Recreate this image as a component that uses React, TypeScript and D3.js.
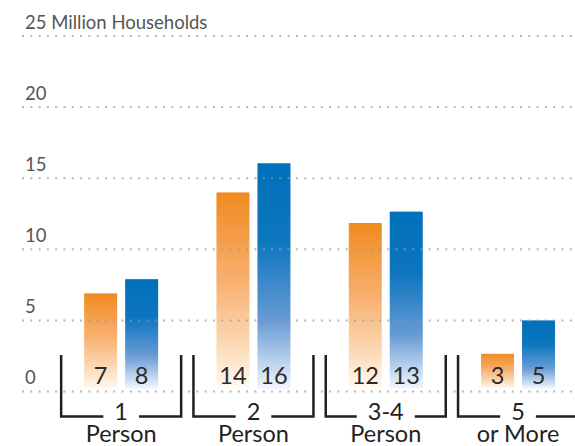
import React, { useEffect, useRef } from "react";
import * as d3 from "d3";

// household size groups
const groups = ["1", "2", "3-4", "5"];
const subLabels = ["Person", "Person", "Person", "or More"];
const seriesNames = ["earlier", "later"];
// bar heights (millions of households)
const earlierValues = [6.9, 14.0, 11.85, 2.65];
const laterValues = [7.9, 16.05, 12.65, 5.0];
// labels printed inside the bars
const earlierLabels = ["7", "14", "12", "3"];
const laterLabels = ["8", "16", "13", "5"];
const yTicks = [0, 5, 10, 15, 20, 25];

const W = 575;
const H = 446;
const FONT = "Lato, 'Open Sans', sans-serif";

function App() {
  const ref = useRef<SVGSVGElement>(null);

  useEffect(() => {
    const svg = d3.select(ref.current);
    svg.selectAll("*").remove();

    const y = d3.scaleLinear().domain([0, 25]).range([391.5, 36]);
    const x = d3.scaleBand().domain(groups).range([55, 55 + 4 * 132.3]);
    const inner = d3.scaleBand().domain(seriesNames).range([-37, 37]).paddingInner(0.195);

    const defs = svg.append("defs");
    const og = defs.append("linearGradient").attr("id", "gOrange")
      .attr("x1", 0).attr("y1", 0).attr("x2", 0).attr("y2", 1);
    [[0, "#f18a1f"], [0.45, "#f7b070"], [0.8, "#fcdcbb"], [1, "#fffaf4"]].forEach(([o, c]) =>
      og.append("stop").attr("offset", o as number).attr("stop-color", c as string));
    const bg = defs.append("linearGradient").attr("id", "gBlue")
      .attr("x1", 0).attr("y1", 0).attr("x2", 0).attr("y2", 1);
    [[0, "#0070bb"], [0.35, "#0d76bf"], [0.7, "#679bd5"], [1, "#f2f6fd"]].forEach(([o, c]) =>
      bg.append("stop").attr("offset", o as number).attr("stop-color", c as string));

    const rows = groups.map((g, i) => ({
      g,
      sub: subLabels[i],
      bars: [
        { s: seriesNames[0], v: earlierValues[i], label: earlierLabels[i], fill: "url(#gOrange)" },
        { s: seriesNames[1], v: laterValues[i], label: laterLabels[i], fill: "url(#gBlue)" },
      ],
    }));

    // bars
    const grp = svg.append("g").selectAll("g").data(rows).join("g")
      .attr("transform", (d) => `translate(${x(d.g)! + x.bandwidth() / 2},0)`);

    grp.selectAll("rect").data((d) => d.bars).join("rect")
      .attr("x", (d) => inner(d.s)!)
      .attr("width", inner.bandwidth())
      .attr("y", (d) => y(d.v))
      .attr("height", (d) => y(0) - 3 - y(d.v))
      .attr("fill", (d) => d.fill);

    grp.selectAll("text.val").data((d) => d.bars).join("text")
      .attr("class", "val")
      .attr("x", (d) => inner(d.s)! + inner.bandwidth() / 2)
      .attr("y", 384)
      .attr("text-anchor", "middle")
      .attr("font-family", FONT)
      .attr("font-size", 23.5)
      .attr("fill", "#2b2b2b")
      .text((d) => d.label);

    // dotted grid drawn on top of the bars
    svg.append("g").selectAll("line").data(yTicks).join("line")
      .attr("x1", 22).attr("x2", W)
      .attr("y1", (d) => y(d)).attr("y2", (d) => y(d))
      .attr("stroke", "#9a9a9a")
      .attr("stroke-opacity", 0.7)
      .attr("stroke-width", 2)
      .attr("stroke-dasharray", "2,6.3");

    svg.append("g").selectAll("text").data(yTicks).join("text")
      .attr("x", 25)
      .attr("y", (d) => y(d) - 7.5)
      .attr("font-family", FONT)
      .attr("font-size", 18.5)
      .attr("fill", "#555555")
      .text((d) => (d === 25 ? "25 Million Households" : String(d)));

    // brackets with group labels
    const bk = svg.append("g").selectAll("g").data(rows).join("g")
      .attr("transform", (d) => `translate(${x(d.g)! + x.bandwidth() / 2},0)`);

    bk.each(function (d) {
      const g = d3.select(this);
      const t = g.append("text")
        .attr("x", 0).attr("y", 419.5)
        .attr("text-anchor", "middle")
        .attr("font-family", FONT)
        .attr("font-size", 23.5)
        .attr("fill", "#231f20")
        .text(d.g);
      const w = (t.node() as SVGTextElement).getComputedTextLength();
      const half = w / 2 + 11;
      const by = 416.5;
      g.append("path")
        .attr("d", `M-60,355V${by}H${-half}`)
        .attr("fill", "none").attr("stroke", "#231f20").attr("stroke-width", 2.5);
      g.append("path")
        .attr("d", `M${half},${by}H60V355`)
        .attr("fill", "none").attr("stroke", "#231f20").attr("stroke-width", 2.5);
      g.append("text")
        .attr("x", 0).attr("y", 441.5)
        .attr("text-anchor", "middle")
        .attr("font-family", FONT)
        .attr("font-size", 23.5)
        .attr("fill", "#231f20")
        .text(d.sub);
    });
  }, []);

  return (
    <svg ref={ref} width={W} height={H} style={{ position: "absolute", left: 0, top: 0 }} />
  );
}

export default App;
